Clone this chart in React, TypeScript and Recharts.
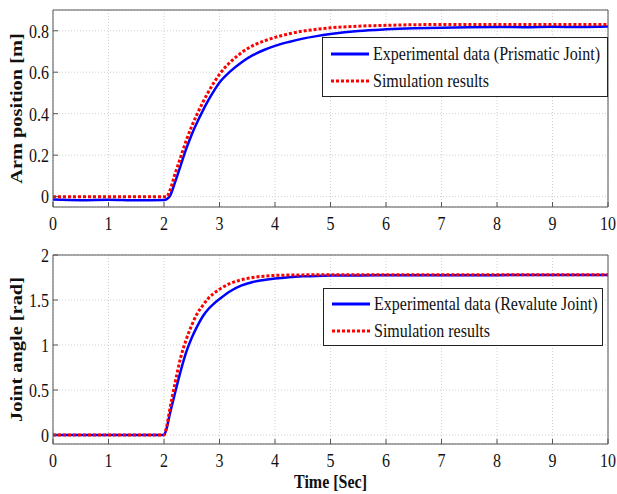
import React from 'react';
import { LineChart, Line, XAxis, YAxis, CartesianGrid, Legend } from 'recharts';

const TIME = [0, 0.5, 1, 1.5, 2, 2.05, 2.1, 2.2, 2.3, 2.4, 2.5, 2.6, 2.7, 2.8, 2.9, 3, 3.2, 3.4, 3.6, 3.8, 4, 4.25, 4.5, 4.75, 5, 5.5, 6, 6.5, 7, 7.5, 8, 8.5, 9, 9.5, 10];

const ARM_EXP = [-0.014, -0.017, -0.015, -0.018, -0.016, -0.012, 0.0, 0.07, 0.15, 0.23, 0.30, 0.36, 0.415, 0.465, 0.51, 0.55, 0.605, 0.648, 0.682, 0.707, 0.727, 0.746, 0.762, 0.774, 0.784, 0.799, 0.807, 0.812, 0.815, 0.817, 0.818, 0.817, 0.819, 0.818, 0.82];
const ARM_SIM = [0, 0, 0, 0, 0, 0, 0.025, 0.11, 0.19, 0.27, 0.34, 0.40, 0.455, 0.505, 0.55, 0.59, 0.65, 0.695, 0.728, 0.75, 0.768, 0.785, 0.798, 0.807, 0.814, 0.822, 0.826, 0.829, 0.83, 0.83, 0.83, 0.83, 0.83, 0.83, 0.83];

const JOINT_EXP = [0, 0, 0, 0, 0, 0.08, 0.22, 0.47, 0.71, 0.92, 1.08, 1.21, 1.32, 1.40, 1.46, 1.51, 1.60, 1.662, 1.70, 1.722, 1.739, 1.754, 1.763, 1.768, 1.771, 1.773, 1.774, 1.775, 1.775, 1.776, 1.776, 1.777, 1.777, 1.777, 1.777];
const JOINT_SIM = [0, 0, 0, 0, 0, 0.1, 0.27, 0.58, 0.86, 1.06, 1.22, 1.35, 1.44, 1.52, 1.575, 1.62, 1.685, 1.725, 1.75, 1.765, 1.773, 1.777, 1.779, 1.78, 1.78, 1.78, 1.78, 1.78, 1.78, 1.78, 1.78, 1.78, 1.78, 1.78, 1.78];

const X_TICKS = [0, 1, 2, 3, 4, 5, 6, 7, 8, 9, 10];
const ARM_TICKS = [0, 0.2, 0.4, 0.6, 0.8];
const JOINT_TICKS = [0, 0.5, 1, 1.5, 2];

const armRows = TIME.map((t, i) => ({ t, exp: ARM_EXP[i], sim: ARM_SIM[i] }));
const jointRows = TIME.map((t, i) => ({ t, exp: JOINT_EXP[i], sim: JOINT_SIM[i] }));

const FONT = '"Liberation Serif", "Times New Roman", serif';
const AXIS = '#555';
const BLUE = '#0000ff';
const RED = '#ff0000';
const STRETCH = 1.2; // reference text is drawn tall and narrow

const XTick = ({ x, y, payload }: any) => (
  <text transform={`translate(${x},${y}) scale(1,${STRETCH})`} textAnchor="middle" dy="0.71em"
    fontFamily={FONT} fontSize={16} fill="#111">{payload.value}</text>
);

const YTick = ({ x, y, payload }: any) => (
  <text transform={`translate(${x},${y}) scale(1,${STRETCH})`} textAnchor="end" dy="0.355em"
    fontFamily={FONT} fontSize={16} fill="#111">{payload.value}</text>
);

const LegendBox = ({ expLabel, width, height, row1, row2 }: any) => (
  <div style={{ position: 'relative', width, height, border: '1px solid #222', background: '#fff', boxSizing: 'border-box', fontFamily: FONT, fontSize: 16, color: '#111' }}>
    {[{ y: row1, label: expLabel, color: BLUE, dash: undefined }, { y: row2, label: 'Simulation results', color: RED, dash: '3 2' }].map((r) => (
      <div key={r.label} style={{ position: 'absolute', left: 8, top: r.y - 10, height: 20, display: 'flex', alignItems: 'center', whiteSpace: 'nowrap' }}>
        <svg width={38} height={6} style={{ marginRight: 4 }}>
          <line x1={0} y1={3} x2={38} y2={3} stroke={r.color} strokeWidth={3} strokeDasharray={r.dash} />
        </svg>
        <span style={{ display: 'inline-block', transform: `scaleY(${STRETCH})` }}>{r.label}</span>
      </div>
    ))}
  </div>
);

const yLabel = (text: string) => (props: any) => {
  const vb = props.viewBox;
  const cy = vb.y + vb.height / 2;
  return (
    <text transform={`translate(16, ${cy}) rotate(-90) scale(${STRETCH},1)`} textAnchor="middle" dominantBaseline="central"
      fontFamily={FONT} fontSize={17} fontWeight={700} fill="#111">
      {text}
    </text>
  );
};

const Panel = ({ rows, ticks, domain, height, topPad, bottomAxis, label, legend }: any) => (
  <LineChart width={617} height={height} data={rows} margin={{ top: 0, right: 0, left: 0, bottom: 0 }}>
    <CartesianGrid stroke="#d0d0d0" strokeDasharray="1 2" />
    <XAxis dataKey="t" type="number" domain={[0, 10]} ticks={X_TICKS} height={bottomAxis} allowDataOverflow
      stroke={AXIS} tickSize={-5} tickMargin={14} tick={<XTick />}
      label={bottomAxis > 40 ? (p: any) => (
        <text transform={`translate(${p.viewBox.x + p.viewBox.width / 2}, ${p.viewBox.y + 37}) scale(1,${STRETCH})`} textAnchor="middle" dominantBaseline="central"
          fontFamily={FONT} fontSize={16} fontWeight={700} fill="#111">Time [Sec]</text>
      ) : undefined} />
    <XAxis xAxisId="top" orientation="top" dataKey="t" type="number" domain={[0, 10]} ticks={X_TICKS} height={topPad}
      stroke={AXIS} tickSize={-5} tick={false} />
    <YAxis type="number" domain={domain} ticks={ticks} width={53} allowDataOverflow
      stroke={AXIS} tickSize={-5} tickMargin={9} tick={<YTick />} label={yLabel(label)} />
    <YAxis yAxisId="right" orientation="right" type="number" domain={domain} ticks={ticks} width={9}
      stroke={AXIS} tickSize={-5} tick={false} />
    <Legend layout="vertical" align="center" verticalAlign="middle"
      wrapperStyle={{ left: legend.left, top: legend.top, width: legend.width }}
      content={() => <LegendBox {...legend} />} />
    <Line dataKey="exp" type="monotone" stroke={BLUE} strokeWidth={2.5} dot={false} isAnimationActive={false} />
    <Line dataKey="sim" type="monotone" stroke={RED} strokeWidth={3} strokeDasharray="3 2" dot={false} isAnimationActive={false} />
  </LineChart>
);

export default function App() {
  return (
    <div style={{ position: 'absolute', left: 0, top: 0, width: 617, height: 494, background: '#fff' }}>
      <div style={{ position: 'absolute', left: 0, top: 0 }}>
        <Panel rows={armRows} ticks={ARM_TICKS} domain={[-0.05, 0.9]} height={240} topPad={10} bottomAxis={33}
          label="Arm position [m]"
          legend={{ left: 322, top: 37, width: 286, height: 60, row1: 16, row2: 43, expLabel: 'Experimental data (Prismatic Joint)' }} />
      </div>
      <div style={{ position: 'absolute', left: 0, top: 240 }}>
        <Panel rows={jointRows} ticks={JOINT_TICKS} domain={[-0.1, 2]} height={254} topPad={15} bottomAxis={50}
          label="Joint angle [rad]"
          legend={{ left: 323, top: 48, width: 280, height: 58, row1: 15, row2: 42, expLabel: 'Experimental data (Revalute Joint)' }} />
      </div>
    </div>
  );
}
